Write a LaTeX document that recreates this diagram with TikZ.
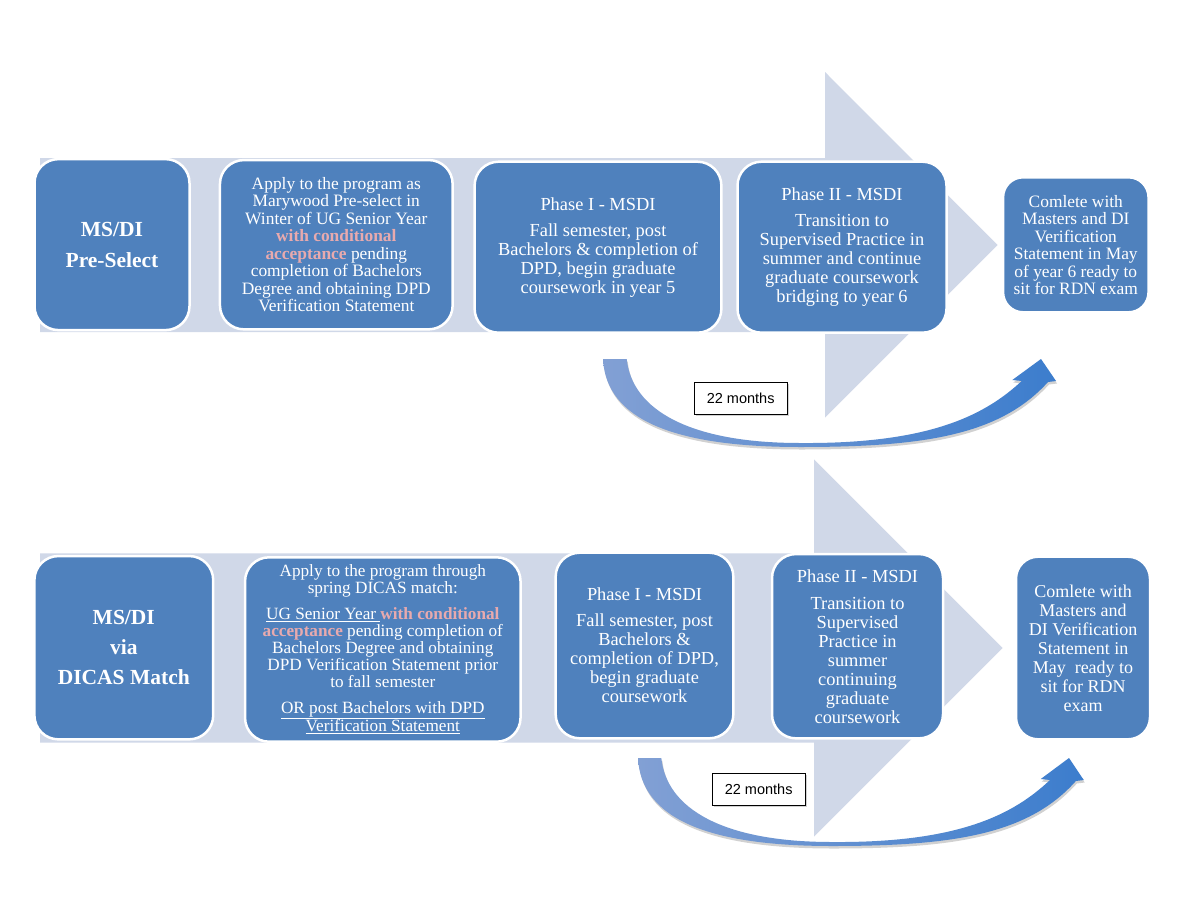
\documentclass[tikz,border=0pt]{standalone}
\usepackage{fontspec}
\usetikzlibrary{shadows}
\setmainfont{Liberation Serif}
\newfontfamily\arialfont{Liberation Sans}
\definecolor{boxblue}{RGB}{79,129,189}
\definecolor{arrowgray}{RGB}{208,216,232}
\definecolor{pinktext}{RGB}{232,170,174}
\definecolor{arrL}{RGB}{130,160,212}
\definecolor{arrR}{RGB}{60,125,205}
\newcommand{\pk}[1]{\textcolor{pinktext}{\textbf{#1}}}
\tikzset{
  stepbox/.style={rounded corners=24pt, fill=boxblue, draw=white, line width=2.5pt,
    text=white, align=center, inner sep=0pt},
  headfont/.style={font=\bfseries\fontsize{21.5}{31}\selectfont},
  smallfont/.style={font=\fontsize{17.4}{17.5}\selectfont},
  midfont/.style={font=\fontsize{18.4}{19}\selectfont},
  monthbox/.style={draw=black, line width=0.8pt, fill=white, font=\arialfont\fontsize{14.5}{16}\selectfont,
    minimum width=93pt, minimum height=32pt, inner sep=0pt,
    drop shadow={shadow xshift=1.5pt, shadow yshift=-1.5pt, opacity=0.35}},
  capath/.style={insert path={
      (0,0) .. controls (3,61) and (72,88) .. (197,88)
      .. controls (322,88) and (397,76) .. (445,23)
      -- (453,22) -- (438,0) -- (409.3,21) -- (418.7,22)
      .. controls (382,56) and (327,85) .. (197,84)
      .. controls (87,84) and (29,51) .. (23.7,0) -- cycle}},
  curvarrow/.pic={
    \fill[black, opacity=0.18, shift={(1,2.5)}, capath];
    \shade[left color=arrL, right color=arrR, capath];
  }
}
\begin{document}
\begin{tikzpicture}[x=1pt,y=-1pt]
\useasboundingbox (0,0) rectangle (1188,918);
\fill[white] (0,0) rectangle (1188,918);

% ---------- top row ----------
\fill[arrowgray] (40,158) -- (825,158) -- (825,72) -- (997.5,245) -- (825,417.5)
  -- (825,332) -- (40,332) -- cycle;

\node[stepbox, headfont, minimum width=155pt, minimum height=171pt] (t1) at (112,244.6)
  {MS/DI\\Pre-Select};
\node[stepbox, smallfont, minimum width=232.7pt, minimum height=169.3pt] (t2) at (336.3,244.7)
  {Apply to the program as\\Marywood Pre-select in\\Winter of UG Senior Year\\
   \pk{with conditional}\\\pk{acceptance} pending\\completion of Bachelors\\
   Degree and obtaining DPD\\Verification Statement};
\node[stepbox, midfont, minimum width=246.8pt, minimum height=171pt] (t3) at (598,247.2)
  {Phase I - MSDI\\[7pt]Fall semester, post\\Bachelors \& completion of\\
   DPD, begin graduate\\coursework in year 5};
\node[stepbox, midfont, minimum width=209pt, minimum height=171pt] (t4) at (842,247.2)
  {Phase II - MSDI\\[7pt]Transition to\\Supervised Practice in\\summer and continue\\
   graduate coursework\\bridging to year 6};
\node[stepbox, smallfont, rounded corners=20pt, minimum width=145.5pt, minimum height=135pt] (t5) at (1075.8,244.8)
  {Comlete with\\Masters and DI\\Verification\\Statement in May\\of year 6 ready to\\sit for RDN exam};

\pic at (603,359) {curvarrow};
\node[monthbox] (m1) at (740.7,398.8) {22 months};

% ---------- bottom row ----------
\fill[arrowgray] (40,553.3) -- (814,553.3) -- (814,459.3) -- (1002.7,648) -- (814,836.7)
  -- (814,742.7) -- (40,742.7) -- cycle;

\node[stepbox, font=\bfseries\fontsize{21.5}{30}\selectfont, minimum width=178.8pt, minimum height=183.3pt] (b1) at (123.8,647.7)
  {MS/DI\\via\\DICAS Match};
\node[stepbox, font=\fontsize{17.2}{17.2}\selectfont, minimum width=275.5pt, minimum height=184.4pt] (b2) at (382.8,649.5)
  {Apply to the program through\\spring DICAS match:\\[8pt]
   \underline{UG Senior Year }\pk{with conditional}\\
   \pk{acceptance} pending completion of\\Bachelors Degree and obtaining\\
   DPD Verification Statement prior\\to fall semester\\[8pt]
   \underline{OR post Bachelors with DPD}\\\underline{Verification Statement}};
\node[stepbox, midfont, minimum width=177.7pt, minimum height=185.6pt] (b3) at (644.5,645.5)
  {Phase I - MSDI\\[7pt]Fall semester, post\\Bachelors \&\\completion of DPD,\\
   begin graduate\\coursework};
\node[stepbox, midfont, minimum width=171pt, minimum height=184.3pt] (b4) at (857.5,646.2)
  {Phase II - MSDI\\[8pt]Transition to\\Supervised\\Practice in\\summer\\continuing\\
   graduate\\coursework};
\node[stepbox, font=\fontsize{18}{19}\selectfont, rounded corners=22pt, minimum width=134pt, minimum height=182.6pt] (b5) at (1083,648)
  {Comlete with\\Masters and\\DI Verification\\Statement in\\May\ \ ready to\\sit for RDN\\exam};

\pic[xscale=0.984] at (638,758) {curvarrow};
\node[monthbox] (m2) at (758.7,789.5) {22 months};
\end{tikzpicture}
\end{document}
